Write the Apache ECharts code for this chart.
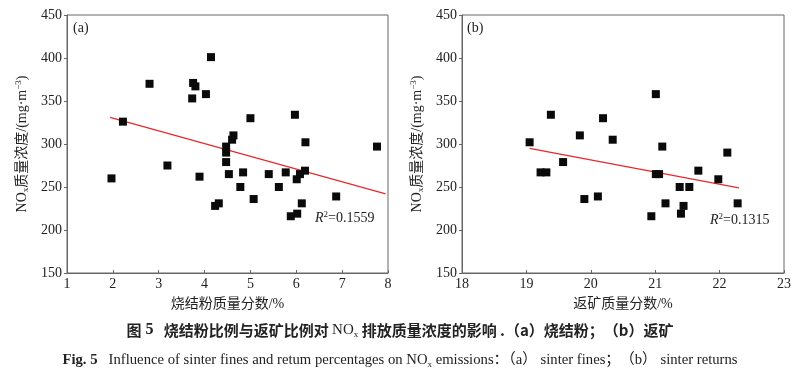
<!DOCTYPE html>
<html><head><meta charset="utf-8">
<script src="https://cdn.jsdelivr.net/npm/echarts@6/dist/echarts.min.js"></script>
<style>html,body{margin:0;padding:0;background:#fff}#c{width:800px;height:375px}</style>
</head><body><div id="c"></div>
<script>
// (a) sinter fines mass fraction (%) vs NOx concentration (mg/m3)
const sinterX = [1.97,2.22,2.80,3.19,3.73,3.75,3.80,3.89,4.03,4.14,4.23,4.31,4.47,4.47,4.47,4.53,4.60,4.63,4.78,4.84,5.00,5.07,5.40,5.62,5.77,5.88,5.97,6.01,6.02,6.08,6.12,6.19,6.20,6.87,7.76];
const sinterY = [260,326,370,275,353,371,367,262,358,401,228,231,297,290,279,265,305,310,250,267,330,236,265,250,267,216,334,259,219,265,231,269,302,239,297];
// (b) return fines mass fraction (%) vs NOx concentration
const returnX = [19.05,19.22,19.31,19.38,19.57,19.83,19.90,20.11,20.19,20.34,20.94,21.01,21.01,21.06,21.11,21.16,21.38,21.40,21.44,21.53,21.67,21.98,22.12,22.28];
const returnY = [302,267,267,334,279,310,236,239,330,305,216,358,265,265,297,231,250,219,228,250,269,259,290,231];
// fitted trend lines (end points)
const fitAX = [1.94, 7.95];
const fitAY = [331, 242];
const fitBX = [19.05, 22.30];
const fitBY = [295, 249];
const r2A = '0.1559';
const r2B = '0.1315';
const xTicksA = [1, 8];
const xTicksB = [18, 23];
const yTicks = [150, 450];

const zip = (a, b) => a.map((v, i) => [v, b[i]]);
const SERIF = '"Liberation Serif","Times New Roman","Noto Sans CJK SC",serif';
const MIX = '"Liberation Serif","Noto Sans CJK SC",serif';
const axisCol = '#666';

const yName = '{n|NO}{s|x}{n|质量浓度/(mg·m}{p|−3}{n|)}';
const yNameStyle = {
  fontFamily: MIX, color: '#222',
  rich: {
    n: {fontSize: 14, fontFamily: MIX, color: '#222', lineHeight: 16},
    s: {fontSize: 9, fontFamily: SERIF, color: '#222', lineHeight: 8, verticalAlign: 'bottom'},
    p: {fontSize: 9, fontFamily: SERIF, color: '#222', lineHeight: 8, verticalAlign: 'top'}
  }
};

function xAxis(idx, range, name) {
  return {
    type: 'value', gridIndex: idx, min: range[0], max: range[1], interval: 1,
    name: name, nameLocation: 'middle', nameGap: 24,
    nameTextStyle: {fontFamily: MIX, fontSize: 14, color: '#222'},
    axisLine: {lineStyle: {color: axisCol, width: 1}},
    axisTick: {inside: true, length: 3, lineStyle: {color: axisCol}},
    axisLabel: {fontFamily: SERIF, fontSize: 14, color: '#222', margin: 4},
    splitLine: {show: false}
  };
}
function yAxis(idx) {
  return {
    type: 'value', gridIndex: idx, min: yTicks[0], max: yTicks[1], interval: 50,
    name: yName, nameLocation: 'middle', nameGap: 37, nameRotate: 90,
    nameTextStyle: yNameStyle,
    axisLine: {show: true, lineStyle: {color: axisCol, width: 1}},
    axisTick: {show: true, inside: false, length: 3, lineStyle: {color: axisCol}},
    axisLabel: {fontFamily: SERIF, fontSize: 14, color: '#222', margin: 5},
    splitLine: {show: false}
  };
}

const chart = echarts.init(document.getElementById('c'), null, {renderer: 'canvas'});
chart.setOption({
  backgroundColor: '#fff',
  animation: false,
  grid: [
    {left: 67, right: 412, top: 15, bottom: 102, show: true, borderColor: axisCol, borderWidth: 1, backgroundColor: 'transparent'},
    {left: 462, right: 16, top: 15, bottom: 102, show: true, borderColor: axisCol, borderWidth: 1, backgroundColor: 'transparent'}
  ],
  xAxis: [xAxis(0, xTicksA, '烧结粉质量分数/%'), xAxis(1, xTicksB, '返矿质量分数/%')],
  yAxis: [yAxis(0), yAxis(1)],
  series: [
    {type: 'scatter', xAxisIndex: 0, yAxisIndex: 0, symbol: 'rect', symbolSize: 8, itemStyle: {color: '#0a0a0a', opacity: 1}, data: zip(sinterX, sinterY), z: 3},
    {type: 'line', xAxisIndex: 0, yAxisIndex: 0, symbol: 'none', lineStyle: {color: '#e8282a', width: 1.2}, data: zip(fitAX, fitAY), z: 2},
    {type: 'scatter', xAxisIndex: 1, yAxisIndex: 1, symbol: 'rect', symbolSize: 8, itemStyle: {color: '#0a0a0a', opacity: 1}, data: zip(returnX, returnY), z: 3},
    {type: 'line', xAxisIndex: 1, yAxisIndex: 1, symbol: 'none', lineStyle: {color: '#e8282a', width: 1.2}, data: zip(fitBX, fitBY), z: 2}
  ],
  graphic: [
    {type: 'text', left: 73, top: 21, style: {text: '(a)', font: '14px ' + SERIF, fill: '#222'}},
    {type: 'text', left: 467, top: 21, style: {text: '(b)', font: '14px ' + SERIF, fill: '#222'}},
    {type: 'text', left: 315, top: 210, style: {
      text: '{i|R}{p|2}{n|=' + r2A + '}',
      rich: {i: {fontStyle: 'italic', fontFamily: SERIF, fontSize: 14, fill: '#222', lineHeight: 16},
             p: {fontFamily: SERIF, fontSize: 9, fill: '#222', lineHeight: 8, verticalAlign: 'top'},
             n: {fontFamily: SERIF, fontSize: 14, fill: '#222', lineHeight: 16}}}},
    {type: 'text', left: 710, top: 212, style: {
      text: '{i|R}{p|2}{n|=' + r2B + '}',
      rich: {i: {fontStyle: 'italic', fontFamily: SERIF, fontSize: 14, fill: '#222', lineHeight: 16},
             p: {fontFamily: SERIF, fontSize: 9, fill: '#222', lineHeight: 8, verticalAlign: 'top'},
             n: {fontFamily: SERIF, fontSize: 14, fill: '#222', lineHeight: 16}}}},
    {type: 'text', left: 'center', top: 322, style: {
      text: '{c|图}{b| 5}{c|   烧结粉比例与返矿比例对 }{n|NO}{s|x}{c| 排放质量浓度的影响 .（a）烧结粉；（b）返矿}',
      rich: {c: {fontFamily: '"Noto Sans CJK SC",sans-serif', fontSize: 15, fontWeight: 'bold', fill: '#222', lineHeight: 18},
             b: {fontFamily: SERIF, fontSize: 16, fontWeight: 'bold', fill: '#222', lineHeight: 18},
             n: {fontFamily: SERIF, fontSize: 15, fill: '#222', lineHeight: 18},
             s: {fontFamily: SERIF, fontSize: 9, fill: '#222', lineHeight: 10, verticalAlign: 'bottom'}}}},
    {type: 'text', left: 'center', top: 353, style: {
      text: '{b|Fig. 5}{e|   Influence of sinter fines and retum percentages on NO}{s|x}{e| emissions：（a） sinter fines；（b） sinter returns}',
      rich: {b: {fontFamily: SERIF, fontSize: 14.7, fontWeight: 'bold', fill: '#222', lineHeight: 18},
             e: {fontFamily: MIX, fontSize: 14.7, fill: '#222', lineHeight: 18},
             s: {fontFamily: SERIF, fontSize: 9, fill: '#222', lineHeight: 10, verticalAlign: 'bottom'}}}}
  ]
});
</script>
</body></html>
